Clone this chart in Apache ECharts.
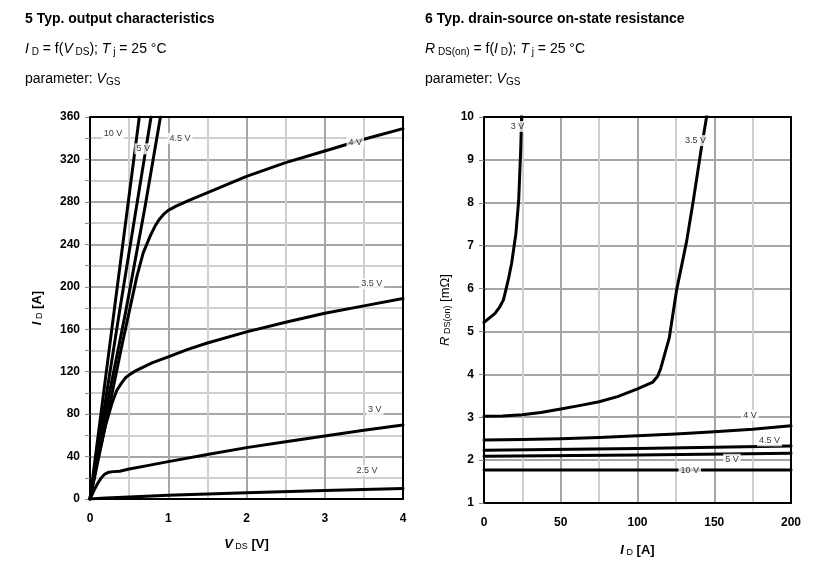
<!DOCTYPE html>
<html>
<head>
<meta charset="utf-8">
<script src="https://cdn.jsdelivr.net/npm/echarts@6/dist/echarts.min.js"></script>
<style>
    html, body { margin: 0; padding: 0; background: #fff; }
    #main { width: 835px; height: 565px; }
</style>
</head>
<body>
<div id="main"></div>
<script>
// 5 output characteristics: [V_DS (V), I_D (A)] per V_GS
const out_10v = [[0, 0], [0.31, 178], [0.63, 360]];
const out_5v = [[0, 0], [0.38, 178], [0.78, 360]];
const out_4v5 = [[0, 0], [0.2, 82], [0.46, 178], [0.7, 274], [0.9, 360]];
const out_4v = [[0, 0], [0.25, 88], [0.4, 142], [0.52, 183], [0.6, 210], [0.68, 232], [0.77, 248], [0.83, 257],
    [0.88, 263], [0.95, 269], [1.0, 272], [1.1, 276], [1.28, 282], [1.58, 291], [2, 304], [2.5, 317],
    [3, 328], [3.5, 339], [4, 349]];
const out_3v5 = [[0, 0], [0.1, 38], [0.2, 70], [0.28, 90], [0.34, 102], [0.4, 109], [0.45, 114], [0.5, 117],
    [0.6, 121.5], [0.7, 125], [0.8, 128.5], [1.0, 134], [1.25, 141], [1.5, 147], [2, 157.5], [2.5, 166.5],
    [3, 175], [3.5, 182], [4, 189]];
const out_3v = [[0, 0], [0.05, 8], [0.1, 15], [0.15, 20.5], [0.19, 23.5], [0.24, 25.3], [0.3, 25.8], [0.38, 26.2],
    [0.5, 28.2], [0.75, 31.7], [1, 35.2], [1.5, 42], [2, 48.4], [2.5, 54], [3, 59.4], [3.5, 64.7], [4, 69.7]];
const out_2v5 = [[0, 0], [0.2, 1], [0.5, 2], [1, 3.5], [2, 6], [3, 8], [4, 10]];
const out_names = ['10 V', '5 V', '4.5 V', '4 V', '3.5 V', '3 V', '2.5 V'];
// where each curve name sits [V_DS, I_D]
const out_label_at = [[0.295, 344], [0.68, 330], [1.15, 340], [3.39, 336], [3.6, 203], [3.64, 84], [3.54, 27]];

// 6 on-state resistance: [I_D (A), R_DS(on) (mOhm)] per V_GS
const ron_3v = [[0, 5.21], [7.2, 5.42], [10.4, 5.58], [12.6, 5.73], [13.7, 5.89], [15.8, 6.2], [18, 6.59],
    [20.8, 7.29], [22.6, 8.06], [23.9, 9.23], [24.5, 10], [24.8, 10.5]];
const ron_3v5 = [[0, 3.02], [12, 3.03], [25, 3.06], [37, 3.11], [50, 3.19], [62, 3.27], [75, 3.36], [87, 3.48],
    [100, 3.66], [110, 3.82], [113, 3.95], [115, 4.12], [117, 4.38], [120.7, 4.85], [125.5, 5.97], [132, 7.1],
    [136.4, 8.06], [141.4, 9.23], [145, 10], [147, 10.45]];
const ron_4v = [[0, 2.47], [25, 2.48], [50, 2.5], [75, 2.53], [100, 2.57], [125, 2.61], [150, 2.66], [175, 2.72], [200, 2.8]];
const ron_4v5 = [[0, 2.23], [100, 2.27], [150, 2.3], [200, 2.33]];
const ron_5v = [[0, 2.09], [100, 2.12], [200, 2.16]];
const ron_10v = [[0, 1.77], [200, 1.77]];
const ron_names = ['3 V', '3.5 V', '4 V', '4.5 V', '5 V', '10 V'];
const ron_label_at = [[21.8, 9.78], [137.8, 9.45], [173.3, 3.05], [186, 2.45], [161.5, 2.02], [134, 1.75]];

const FONT = '"Liberation Sans", Arial, sans-serif';

function curve(data, gi) {
    return {
        type: 'line', xAxisIndex: gi * 2, yAxisIndex: gi * 2, data: data,
        showSymbol: false, smooth: false, clip: true,
        lineStyle: {color: '#000', width: 3, join: 'round', cap: 'round'}, z: 3, silent: true
    };
}

function tags(names, at, gi) {
    return {
        type: 'scatter', xAxisIndex: gi * 2, yAxisIndex: gi * 2, symbolSize: 0, z: 5, silent: true,
        data: at.map((p, i) => ({value: p, name: names[i]})),
        label: {
            show: true, position: 'inside', formatter: '{b}', color: '#000',
            fontFamily: FONT, fontSize: 9, backgroundColor: '#fff', padding: [1, 2]
        }
    };
}

// frame axis on the far side (top / right), line only
function frame(gi, pos, min, max) {
    return {
        type: 'value', gridIndex: gi, position: pos, min: min, max: max,
        axisLine: {show: true, onZero: false, lineStyle: {color: '#000', width: 2}},
        axisTick: {show: false}, axisLabel: {show: false}, splitLine: {show: false}, z: 6
    };
}

const tickLabel = {color: '#000', fontFamily: FONT, fontWeight: 'bold', fontSize: 12};
const major = {show: true, lineStyle: {color: '#a6a6a6', width: 2}};
const minor = {show: true, lineStyle: {color: '#cfcfcf', width: 2}};

const rich = {
    n: {fontFamily: FONT, fontSize: 14, fontWeight: 'normal', color: '#000'},
    i: {fontFamily: FONT, fontSize: 14, fontWeight: 'normal', fontStyle: 'italic', color: '#000'},
    s: {fontFamily: FONT, fontSize: 10, fontWeight: 'normal', color: '#000', padding: [6, 0, 0, 0]}
};
const axisRich = {
    b: {fontFamily: FONT, fontSize: 13, fontWeight: 'bold', color: '#000'},
    bi: {fontFamily: FONT, fontSize: 13, fontWeight: 'bold', fontStyle: 'italic', color: '#000'},
    s: {fontFamily: FONT, fontSize: 9, fontWeight: 'normal', color: '#000', padding: [5, 0, 0, 0]},
    n: {fontFamily: FONT, fontSize: 13, fontWeight: 'normal', color: '#000'},
    ni: {fontFamily: FONT, fontSize: 13, fontWeight: 'normal', fontStyle: 'italic', color: '#000'}
};

let chart = echarts.init(document.getElementById('main'));
let option = {
    animation: false,
    backgroundColor: '#fff',
    title: [
        {text: '5 Typ. output characteristics', left: 20, top: 7,
            textStyle: {fontFamily: FONT, fontSize: 14, fontWeight: 'bold', color: '#000'}},
        {text: '{i|I}{s| D}{n| = f(}{i|V}{s| DS}{n|); }{i|T}{s| j}{n| = 25 °C}', left: 20, top: 36,
            textStyle: {fontWeight: 'normal', rich: rich}},
        {text: '{n|parameter: }{i|V}{s|GS}', left: 20, top: 66, textStyle: {fontWeight: 'normal', rich: rich}},
        {text: '6 Typ. drain-source on-state resistance', left: 420, top: 7,
            textStyle: {fontFamily: FONT, fontSize: 14, fontWeight: 'bold', color: '#000'}},
        {text: '{i|R}{s| DS(on)}{n| = f(}{i|I}{s| D}{n|); }{i|T}{s| j}{n| = 25 °C}', left: 420, top: 36,
            textStyle: {fontWeight: 'normal', rich: rich}},
        {text: '{n|parameter: }{i|V}{s|GS}', left: 420, top: 66, textStyle: {fontWeight: 'normal', rich: rich}}
    ],
    grid: [
        {left: 90, right: 432, top: 117, bottom: 66},
        {left: 484, right: 44, top: 117, bottom: 62}
    ],
    xAxis: [
        {
            type: 'value', gridIndex: 0, min: 0, max: 4, interval: 1,
            name: '{bi|V}{s| DS}{b| [V]}', nameLocation: 'middle', nameGap: 38,
            nameTextStyle: {rich: axisRich},
            axisLine: {onZero: false, lineStyle: {color: '#000', width: 2}},
            axisTick: {show: false}, axisLabel: Object.assign({margin: 14}, tickLabel),
            splitLine: major, minorTick: {show: false, splitNumber: 2}, minorSplitLine: minor
        },
        frame(0, 'top', 0, 4),
        {
            type: 'value', gridIndex: 1, min: 0, max: 200, interval: 50,
            name: '{bi|I}{s| D}{b| [A]}', nameLocation: 'middle', nameGap: 40,
            nameTextStyle: {rich: axisRich},
            axisLine: {onZero: false, lineStyle: {color: '#000', width: 2}},
            axisTick: {show: false}, axisLabel: Object.assign({margin: 14}, tickLabel),
            splitLine: major, minorTick: {show: false, splitNumber: 2}, minorSplitLine: minor
        },
        frame(1, 'top', 0, 200)
    ],
    yAxis: [
        {
            type: 'value', gridIndex: 0, min: 0, max: 360, interval: 40,
            name: '{bi|I}{s| D}{b| [A]}', nameLocation: 'middle', nameGap: 46, nameRotate: 90,
            nameTextStyle: {rich: axisRich},
            axisLine: {onZero: false, lineStyle: {color: '#000', width: 2}},
            axisTick: {show: true, length: 5, lineStyle: {color: '#888'}},
            axisLabel: Object.assign({margin: 10}, tickLabel),
            splitLine: major,
            minorTick: {show: true, splitNumber: 2, length: 5, lineStyle: {color: '#888'}},
            minorSplitLine: minor
        },
        frame(0, 'right', 0, 360),
        {
            type: 'value', gridIndex: 1, min: 1, max: 10, interval: 1,
            name: '{ni|R}{s| DS(on)}{n| [mΩ]}', nameLocation: 'middle', nameGap: 32, nameRotate: 90,
            nameTextStyle: {rich: axisRich},
            axisLine: {onZero: false, lineStyle: {color: '#000', width: 2}},
            axisTick: {show: true, length: 5, lineStyle: {color: '#888'}},
            axisLabel: Object.assign({margin: 10}, tickLabel),
            splitLine: major
        },
        frame(1, 'right', 1, 10)
    ],
    series: [
        curve(out_10v, 0), curve(out_5v, 0), curve(out_4v5, 0), curve(out_4v, 0),
        curve(out_3v5, 0), curve(out_3v, 0), curve(out_2v5, 0),
        tags(out_names, out_label_at, 0),
        curve(ron_3v, 1), curve(ron_3v5, 1), curve(ron_4v, 1), curve(ron_4v5, 1),
        curve(ron_5v, 1), curve(ron_10v, 1),
        tags(ron_names, ron_label_at, 1)
    ]
};
chart.setOption(option);
</script>
</body>
</html>
